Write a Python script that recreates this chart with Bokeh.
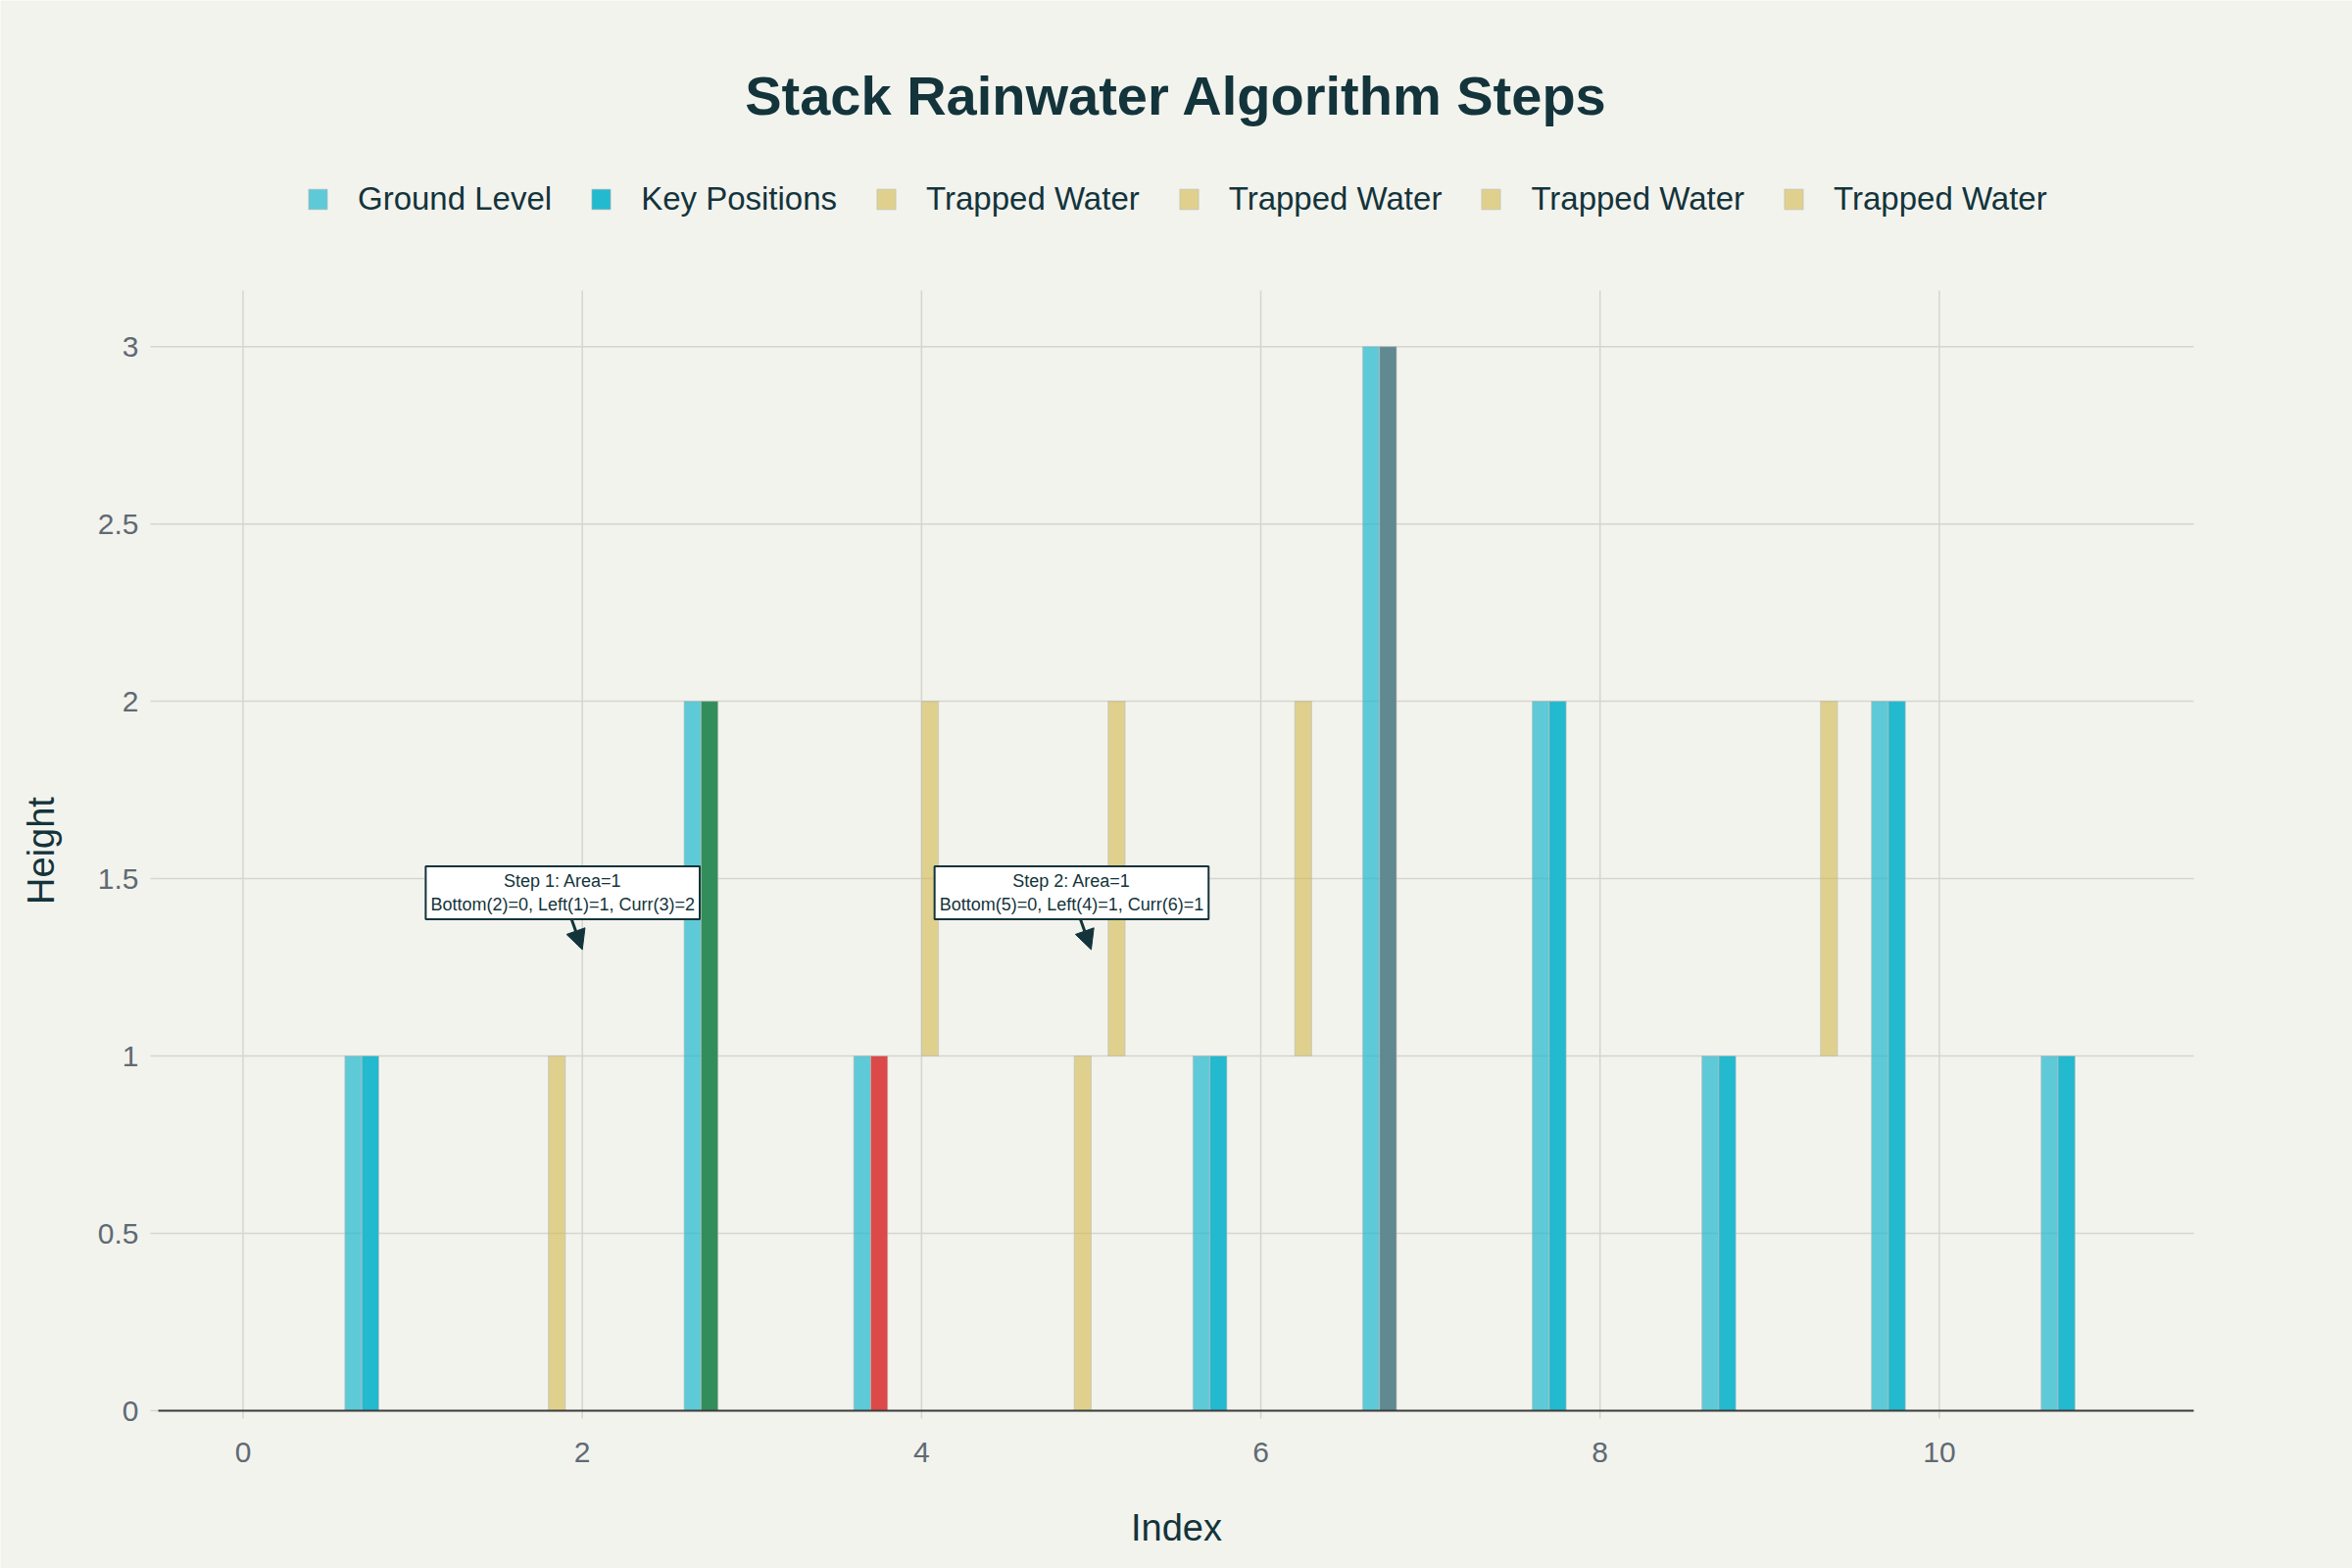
import math
from bokeh.plotting import figure
from bokeh.models import Legend, LegendItem, Label, Arrow, NormalHead
from bokeh.core.properties import value
from bokeh.embed import file_html
from bokeh.resources import INLINE

# ---------------- data ----------------
indices = list(range(12))
heights = [0, 1, 0, 2, 1, 0, 1, 3, 2, 1, 2, 1]
key_colors = ["#1FB8CD", "#1FB8CD", "#1FB8CD", "#2E8B57", "#DB4545", "#1FB8CD",
              "#1FB8CD", "#5D878F", "#1FB8CD", "#1FB8CD", "#1FB8CD", "#1FB8CD"]
water_index = [2, 5, 4, 5, 6, 9]
water_bottom = [0, 0, 1, 1, 1, 1]
water_top = [1, 1, 2, 2, 2, 2]
water_in_legend = [True, True, True, True, False, False]
x_ticks = [0, 2, 4, 6, 8, 10]
x_tick_labels = ["0", "2", "4", "6", "8", "10"]
y_ticks = [0, 0.5, 1, 1.5, 2, 2.5, 3]
y_tick_labels = ["0", "0.5", "1", "1.5", "2", "2.5", "3"]
step_texts = ["Step 1: Area=1\nBottom(2)=0, Left(1)=1, Curr(3)=2",
              "Step 2: Area=1\nBottom(5)=0, Left(4)=1, Curr(6)=1"]
step_x = [2, 5]
step_y = [1.3, 1.3]

# ---------------- style ----------------
BG = "#F3F3EE"
DARK = "#13343B"
TICK_C = "#5F6A73"
GRID_C = "#D5D5D0"
AXIS_C = "#3D3D3D"
GROUND_C = "#1FB8CD"
WATER_C = "#D2BA4C"
FONT = "Liberation Sans"

W, H = 2400, 1600
PL, PR, PT, PB = 161, 2238, 296, 1439   # data-area edges on the canvas
X0, X1 = -0.5, 11.5
Y0, Y_PLOT_TOP = 0, 3.158
PX_X = (PR - PL) / (X1 - X0)
PX_Y = (PB - PT) / (Y_PLOT_TOP - Y0)
XF0 = X0 - PL / PX_X
XF1 = X1 + (W - PR) / PX_X
YF0 = Y0 - (H - PB) / PX_Y
YF1 = Y0 + PB / PX_Y

p = figure(width=W, height=H, x_range=(XF0, XF1), y_range=(YF0, YF1),
           output_backend="svg", toolbar_location=None,
           x_axis_location=None, y_axis_location=None,
           background_fill_color=BG, border_fill_color=BG,
           outline_line_color=None, min_border=0)
p.title.visible = False
p.xgrid.visible = False
p.ygrid.visible = False

# grid lines limited to the data area
p.segment(x0=x_ticks, y0=[Y0] * len(x_ticks), x1=x_ticks,
          y1=[Y_PLOT_TOP] * len(x_ticks), line_color=GRID_C, line_width=1.5)
p.segment(x0=[X0] * len(y_ticks), y0=y_ticks, x1=[X1] * len(y_ticks),
          y1=y_ticks, line_color=GRID_C, line_width=1.5)

# y axis: ticks, tick labels and title
p.segment(x0=[X0 - 8 / PX_X] * len(y_ticks), y0=y_ticks, x1=[X0] * len(y_ticks),
          y1=y_ticks, line_color=GRID_C, line_width=1.5)
p.text(x=[X0 - 20 / PX_X] * len(y_ticks), y=y_ticks, text=y_tick_labels,
       text_font=value(FONT), text_font_size="30px", text_color=TICK_C,
       text_align="right", text_baseline="middle")
p.text(x=[X0 - 120 / PX_X], y=[(Y0 + Y_PLOT_TOP) / 2], text=["Height"],
       angle=math.pi / 2, text_font=value(FONT), text_font_size="38px",
       text_color=DARK, text_align="center", text_baseline="middle")

# x axis: ticks, tick labels and title
p.segment(x0=x_ticks, y0=[Y0 - 8 / PX_Y] * len(x_ticks), x1=x_ticks,
          y1=[Y0] * len(x_ticks), line_color=GRID_C, line_width=1.5)
p.text(x=x_ticks, y=[Y0 - 42 / PX_Y] * len(x_ticks), text=x_tick_labels,
       text_font=value(FONT), text_font_size="30px", text_color=TICK_C,
       text_align="center", text_baseline="middle")
p.text(x=[(X0 + X1) / 2 + (1200 - (PL + PR) / 2) / PX_X], y=[Y0 - 119 / PX_Y],
       text=["Index"], text_font=value(FONT), text_font_size="38px",
       text_color=DARK, text_align="center", text_baseline="middle")

# grouped bar slots
n_slots = 8
group_w = 0.8
slot = group_w / n_slots


def off(k):
    return -group_w / 2 + slot * (k + 0.5)


items = []
edge = dict(line_color="#BDBDBD", line_alpha=0.6, line_width=1)

gx = [i + off(0) for i, h in zip(indices, heights) if h > 0]
gt = [h for h in heights if h > 0]
r_ground = p.vbar(x=gx, top=gt, bottom=0, width=slot, fill_color=GROUND_C,
                  fill_alpha=0.7, **edge)
items.append(LegendItem(label="Ground Level", renderers=[r_ground]))

kx = [i + off(1) for i, h in zip(indices, heights) if h > 0]
kc = [c for c, h in zip(key_colors, heights) if h > 0]
r_key = p.vbar(x=kx, top=gt, bottom=0, width=slot, fill_color=kc,
               fill_alpha=0.98, **edge)
items.append(LegendItem(label="Key Positions", renderers=[r_key], index=0))

for k, (wi, wb, wt, show) in enumerate(zip(water_index, water_bottom, water_top,
                                            water_in_legend)):
    r = p.vbar(x=[wi + off(k + 2)], top=[wt], bottom=[wb], width=slot,
               fill_color=WATER_C, fill_alpha=0.6, **edge)
    if show:
        items.append(LegendItem(label="Trapped Water", renderers=[r]))

# x axis line (zero line) on top of the bars' bases
p.segment(x0=[X0], y0=[Y0], x1=[X1], y1=[Y0], line_color=AXIS_C, line_width=2)

legend = Legend(items=items, orientation="horizontal",
                location=(312, H - 204 - 18),
                background_fill_alpha=0, border_line_color=None,
                label_text_font=FONT, label_text_font_size="33px",
                label_text_color=DARK, glyph_width=24, glyph_height=26,
                label_standoff=29, spacing=38, padding=0, margin=0,
                label_height=26)
p.add_layout(legend, "center")

title = Label(x=W / 2, y=H - 97, x_units="screen", y_units="screen",
              text="Stack Rainwater Algorithm Steps", text_font=FONT,
              text_font_size="56px", text_font_style="bold", text_color=DARK,
              text_align="center", text_baseline="middle")
p.add_layout(title)

# annotations
for t, ax_, ay_ in zip(step_texts, step_x, step_y):
    bx = ax_ + (-20) / PX_X
    by = ay_ + 58 / PX_Y
    lab = Label(x=bx, y=by, text=t, text_font=FONT, text_font_size="18px",
                text_color=DARK, text_align="center", text_baseline="middle",
                background_fill_color="white", border_line_color=DARK,
                border_line_width=2, padding=(5, 5, 5, 5))
    p.add_layout(lab)
    arr = Arrow(end=NormalHead(size=20, fill_color=DARK, line_color=DARK),
                x_start=ax_ + (-11) / PX_X, y_start=ay_ + 31 / PX_Y,
                x_end=ax_, y_end=ay_, line_color=DARK, line_width=3)
    p.add_layout(arr)

open("out.html", "w").write(file_html(p, INLINE))
